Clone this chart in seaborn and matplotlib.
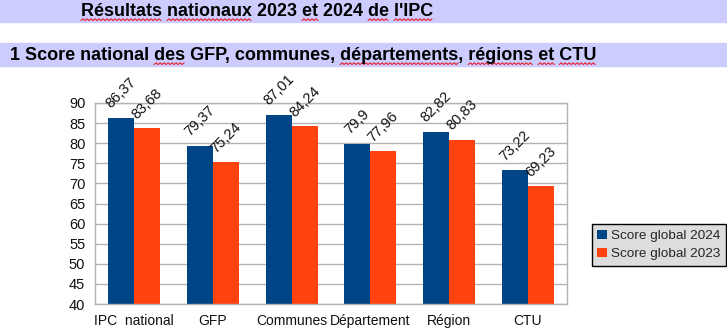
import numpy as np
import pandas as pd
import matplotlib
matplotlib.use("Agg")
import matplotlib.pyplot as plt
import seaborn as sns
from matplotlib.patches import Rectangle

# ---- data ----
categories = ["IPC  national", "GFP", "Communes", "Département", "Région", "CTU"]
series_names = ["Score global 2024", "Score global 2023"]
score_2024 = [86.37, 79.37, 87.01, 79.9, 82.82, 73.22]
score_2023 = [83.68, 75.24, 84.24, 77.96, 80.83, 69.23]
y_ticks = list(range(40, 95, 5))
title_main = "Résultats nationaux 2023 et 2024 de l'IPC"
title_sub = "1 Score national des GFP, communes, départements, régions et CTU"
underlined_main = ["Résultats", "nationaux", "et", "de", "l'IPC"]
underlined_sub = ["des", "départements", "régions", " et ", "CTU"]

df = pd.DataFrame({
    "cat": categories * 2,
    "serie": [series_names[0]] * len(categories) + [series_names[1]] * len(categories),
    "val": score_2024 + score_2023,
})

sns.set_theme(style="white")
plt.rcParams["font.family"] = ["Liberation Sans", "DejaVu Sans"]

W, H = 727, 334
fig = plt.figure(figsize=(W / 100, H / 100), dpi=100)
ax = fig.add_axes([95 / W, 1 - 304 / H, (567 - 95) / W, (304 - 103) / H])

colors = ["#004586", "#ff420e"]
sns.barplot(data=df, x="cat", y="val", hue="serie", hue_order=series_names,
            order=categories, palette=colors, width=0.66, gap=0,
            ax=ax, edgecolor="none", saturation=1, legend=True)

ax.set_ylim(40, 90)
ax.set_xlim(-0.5, len(categories) - 0.5)
ax.set_yticks(y_ticks)
ax.set_yticklabels([str(t) for t in y_ticks], fontsize=10.5, color="#111111")
ax.yaxis.grid(True, color="#b3b3b3", linewidth=1)
ax.set_axisbelow(True)
ax.set_xlabel("")
ax.set_ylabel("")

# x ticks at boundaries, labels at centers
ax.set_xticks(np.arange(-0.5, len(categories), 1))
ax.set_xticklabels([""] * (len(categories) + 1))
ax.set_xticks(np.arange(len(categories)), minor=True)
ax.set_xticklabels(categories, minor=True, fontsize=10, color="#111111")
ax.tick_params(axis="x", which="major", length=5, width=1, color="#b3b3b3", direction="out")
ax.tick_params(axis="x", which="minor", length=0, pad=7)
ax.tick_params(axis="y", length=5, width=1, color="#b3b3b3", direction="out", pad=2)
for s in ax.spines.values():
    s.set_color("#b3b3b3")
    s.set_linewidth(1)
    s.set_visible(True)

# value labels
for cont in ax.containers:
    labels = [("%g" % b.get_height()).replace(".", ",") for b in cont]
    ax.bar_label(cont, labels=labels, rotation=45, padding=5, fontsize=10.5, color="#111111")

# legend
handles, labs = ax.get_legend_handles_labels()
ax.legend(handles, labs, loc="center left", bbox_to_anchor=(592 / W, 1 - 245 / H),
          bbox_transform=fig.transFigure, frameon=True, fancybox=False,
          facecolor="#dddddd", edgecolor="black", framealpha=1, fontsize=9.7,
          handlelength=0.7, handleheight=0.7, handletextpad=0.3, borderpad=0.4,
          labelspacing=0.4, borderaxespad=0)
ax.get_legend().get_frame().set_linewidth(1)

# header bands
fig.patches.append(Rectangle((0, 1 - 22 / H), 1, 22 / H, transform=fig.transFigure,
                             color="#ccccff", zorder=0))
fig.patches.append(Rectangle((0, 1 - 66 / H), 1, 23 / H, transform=fig.transFigure,
                             color="#ccccff", zorder=0))

t1 = fig.text(81 / W, 1 - 11 / H, title_main, fontsize=12.9, fontweight="bold",
              ha="left", va="center", color="black")
t2 = fig.text(10 / W, 1 - 55 / H, title_sub, fontsize=13.0, fontweight="bold",
              ha="left", va="center", color="black")

# spell-check style wavy underlines
fig.canvas.draw()
renderer = fig.canvas.get_renderer()


def text_width(s, ref):
    if not s:
        return 0.0
    tmp = fig.text(0, 0, s, fontsize=ref.get_fontsize(), fontweight=ref.get_fontweight(),
                   fontfamily=ref.get_fontfamily())
    w = tmp.get_window_extent(renderer).width
    tmp.remove()
    return w


def underline(ref, full, words, y_px):
    x0 = ref.get_window_extent(renderer).x0
    start = 0
    for w in words:
        i = full.find(w, start)
        if i < 0:
            continue
        ww = w.strip()
        j = full.find(ww, i)
        a = x0 + text_width(full[:j], ref)
        b = x0 + text_width(full[:j + len(ww)], ref)
        xs = np.arange(a, b + 0.01, 2.0)
        ys = np.array([y_px + (1.2 if k % 2 else -0.6) for k in range(len(xs))])
        fig.add_artist(plt.Line2D(xs / W, ys / H, transform=fig.transFigure,
                                  color="#e8202a", linewidth=0.8))
        start = j + len(ww)


underline(t1, title_main, underlined_main, H - 20)
underline(t2, title_sub, underlined_sub, H - 64)

fig.savefig("out.png", dpi=100)
